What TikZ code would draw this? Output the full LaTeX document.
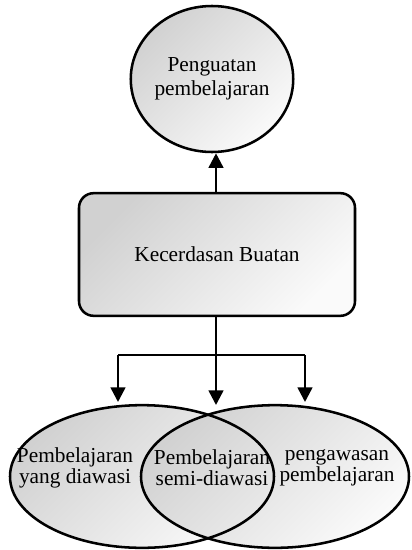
\documentclass[tikz,border=0pt]{standalone}
\usepackage{fontspec}
\setmainfont{Liberation Serif}
\usetikzlibrary{shapes.geometric,arrows.meta}
\begin{document}
\begin{tikzpicture}[x=0.75pt,y=-0.75pt,
  shadefill/.style={top color=black!18, bottom color=black!2, shading angle=45},
  outline/.style={draw=black, line width=1.9pt},
  oval/.style={ellipse, inner sep=0pt},
  lbl/.style={font=\fontsize{16}{18}\selectfont, align=center, inner sep=0pt},
  lblb/.style={font=\fontsize{16}{14.5}\selectfont, align=center, inner sep=0pt},
  arr/.style={line width=1.9pt, -{Triangle[width=11pt,length=11pt]}},
  ln/.style={line width=1.9pt}]
\useasboundingbox (0,0) rectangle (411,550);
% top ellipse
\node[oval, shadefill, outline, minimum width=121.5pt, minimum height=109.5pt, lbl] (top) at (212,79) {Penguatan\\pembelajaran};
% box
\node[rectangle, rounded corners=11pt, shadefill, outline, minimum width=207pt, minimum height=92pt, lbl] (box) at (217,254.5) {Kecerdasan Buatan};
% bottom ellipses
\node[oval, shadefill, minimum width=198pt, minimum height=107pt] (L) at (142,476.5) {};
\node[oval, shadefill, minimum width=201pt, minimum height=107pt] (R) at (275,476.5) {};
\node[oval, outline, minimum width=198pt, minimum height=107pt] (Lo) at (142,476.5) {};
\node[oval, outline, minimum width=201pt, minimum height=107pt] (Ro) at (275,476.5) {};
\node[lblb] (tl) at (75,468) {Pembelajaran\\yang diawasi};
\node[lblb] (tm) at (212,468) {Pembelajaran\\semi-diawasi};
\node[lblb] (tr) at (337,468) {pengawasan\\pembelajaran};
% connectors
\coordinate (j) at (216,355);
\coordinate (lt) at (118,402);
\coordinate (rt) at (305,402);
\coordinate (mt) at (216,405);
\draw[arr] (box.north -| j) -- (top.south -| j);
\draw[arr] (box.south -| j) -- (mt);
\draw[ln] (j -| lt) -- (j -| rt);
\draw[arr] (j -| lt) -- (lt);
\draw[arr] (j -| rt) -- (rt);
\end{tikzpicture}
\end{document}
